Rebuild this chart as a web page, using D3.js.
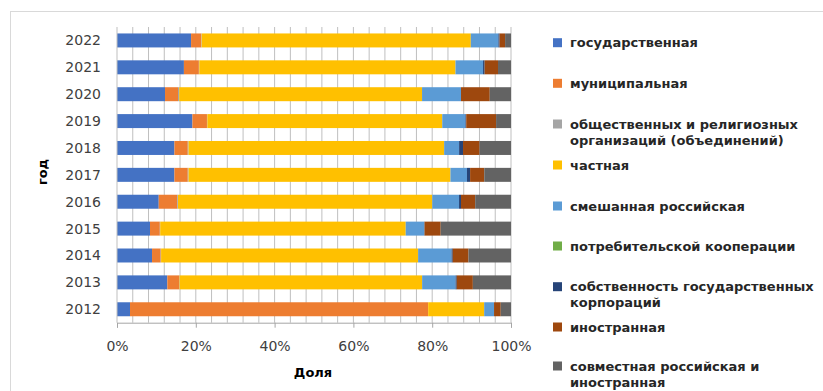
<!DOCTYPE html>
<html><head><meta charset="utf-8">
<script src="https://cdn.jsdelivr.net/npm/d3@7"></script>
<style>
html,body{margin:0;padding:0;background:#fff;}
svg{display:block;}
</style></head>
<body><svg id="c" width="823" height="391"></svg>
<script>
const years = ["2022","2021","2020","2019","2018","2017","2016","2015","2014","2013","2012"];
const seriesNames = [
  "государственная",
  "муниципальная",
  "общественных и религиозных организаций (объединений)",
  "частная",
  "смешанная российская",
  "потребительской кооперации",
  "собственность государственных корпораций",
  "иностранная",
  "совместная российская и иностранная"
];
const legendLines = [
  ["государственная"],
  ["муниципальная"],
  ["общественных и религиозных","организаций (объединений)"],
  ["частная"],
  ["смешанная российская"],
  ["потребительской кооперации"],
  ["собственность государственных","корпораций"],
  ["иностранная"],
  ["совместная российская и","иностранная"]
];
const colors = ["#4472C4","#ED7D31","#A5A5A5","#FFC000","#5B9BD5","#70AD47","#264478","#9E480E","#636363"];
// values per year (%), same order as years
const gos    = [18.8,17.0,12.2,19.2,14.6,14.6,10.6, 8.4, 8.9,12.8, 3.3];
const mun    = [ 2.6, 3.8, 3.3, 3.7, 3.4, 3.4, 4.7, 2.5, 2.2, 3.0,75.6];
const obsch  = [ 0.1, 0.1, 0.3, 0.1, 0.2, 0.2, 0.2, 0.1, 0.1, 0.1, 0.0];
const chast  = [68.3,65.1,61.7,59.8,65.0,66.6,64.6,62.5,65.3,61.7,14.2];
const smesh  = [ 7.0, 7.0, 9.9, 5.9, 3.8, 4.2, 6.8, 4.7, 8.5, 8.5, 2.5];
const potreb = [ 0.0, 0.0, 0.0, 0.0, 0.0, 0.0, 0.0, 0.0, 0.0, 0.0, 0.0];
const korp   = [ 0.3, 0.4, 0.0, 0.2, 1.0, 0.8, 0.5, 0.1, 0.3, 0.3, 0.0];
const inostr = [ 1.4, 3.4, 7.3, 7.6, 4.2, 3.6, 3.6, 4.1, 4.0, 4.1, 1.7];
const sovm   = [ 1.5, 3.3, 5.4, 3.8, 8.0, 6.8, 9.1,17.9,10.8, 9.7, 2.6];
const xTicks = [0,0.2,0.4,0.6,0.8,1.0];

const seriesVals = [gos,mun,obsch,chast,smesh,potreb,korp,inostr,sovm];
const rows = years.map((y,i)=>{
  const r = {year:y};
  seriesNames.forEach((s,k)=>r[s]=seriesVals[k][i]);
  return r;
});
const stacked = d3.stack().keys(seriesNames).offset(d3.stackOffsetExpand)(rows);

const svg = d3.select("#c");
const L=117, R=511, T=27, B=322.7;
const x = d3.scaleLinear().domain([0,1]).range([L,R]);
const y = d3.scaleBand().domain(years).range([T,B]).paddingInner(0.48).paddingOuter(0.24);

// chart border
svg.append("rect").attr("x",10.5).attr("y",11.5).attr("width",830).attr("height",400)
  .attr("fill","none").attr("stroke","#d9d9d9");

// minor gridlines every 4%
const grid = d3.range(1,26).map(i=>i*0.04);
svg.append("g").selectAll("line").data(grid).join("line")
  .attr("x1",d=>x(d)).attr("x2",d=>x(d)).attr("y1",T).attr("y2",B)
  .attr("stroke","#bfbfbf").attr("stroke-width",1);

// bars
svg.append("g").selectAll("g").data(stacked).join("g")
  .attr("fill",(d,i)=>colors[i])
  .selectAll("rect").data(d=>d).join("rect")
  .attr("x",d=>x(d[0])).attr("width",d=>Math.max(0,x(d[1])-x(d[0])))
  .attr("y",d=>y(d.data.year)).attr("height",y.bandwidth());

// y axis line
svg.append("line").attr("x1",L).attr("x2",L).attr("y1",T).attr("y2",B).attr("stroke","#bfbfbf");

// x axis
const xa = svg.append("g").attr("transform",`translate(0,${B})`)
  .call(d3.axisBottom(x).tickValues(xTicks).tickFormat(d3.format(".0%")).tickSize(5).tickPadding(13));
xa.select(".domain").attr("stroke","#a6a6a6");
xa.selectAll(".tick line").attr("stroke","#a6a6a6");
xa.selectAll("text").attr("font-family","DejaVu Sans").attr("font-size",14).attr("fill","#404040");

// y labels
svg.append("g").selectAll("text").data(years).join("text")
  .attr("x",101).attr("y",d=>y(d)+y.bandwidth()/2).attr("dy","0.35em")
  .attr("text-anchor","end").attr("font-family","DejaVu Sans").attr("font-size",14)
  .attr("fill","#404040").text(d=>d);

// axis titles
svg.append("text").attr("x",313).attr("y",377).attr("text-anchor","middle")
  .attr("font-family","DejaVu Sans").attr("font-weight","bold").attr("font-size",13)
  .attr("fill","#000").text("Доля");
svg.append("text").attr("transform","translate(47,172) rotate(-90)").attr("text-anchor","middle")
  .attr("font-family","DejaVu Sans").attr("font-weight","bold").attr("font-size",13)
  .attr("fill","#000").text("год");

// legend
const legY = [42.7,83.3,124,165,206,246,286.7,327,366];
const lg = svg.append("g").selectAll("g").data(legendLines).join("g")
  .attr("transform",(d,i)=>`translate(553,${legY[i]})`);
lg.append("rect").attr("x",0).attr("y",-4.5).attr("width",9).attr("height",9)
  .attr("fill",(d,i)=>colors[i]);
lg.each(function(lines){
  const g = d3.select(this);
  lines.forEach((t,j)=>{
    g.append("text").attr("x",17).attr("y",j*16).attr("dy","0.35em")
      .attr("font-family","DejaVu Sans").attr("font-size",13).attr("font-weight","bold")
      .attr("fill","#262626").text(t);
  });
});
</script></body></html>
